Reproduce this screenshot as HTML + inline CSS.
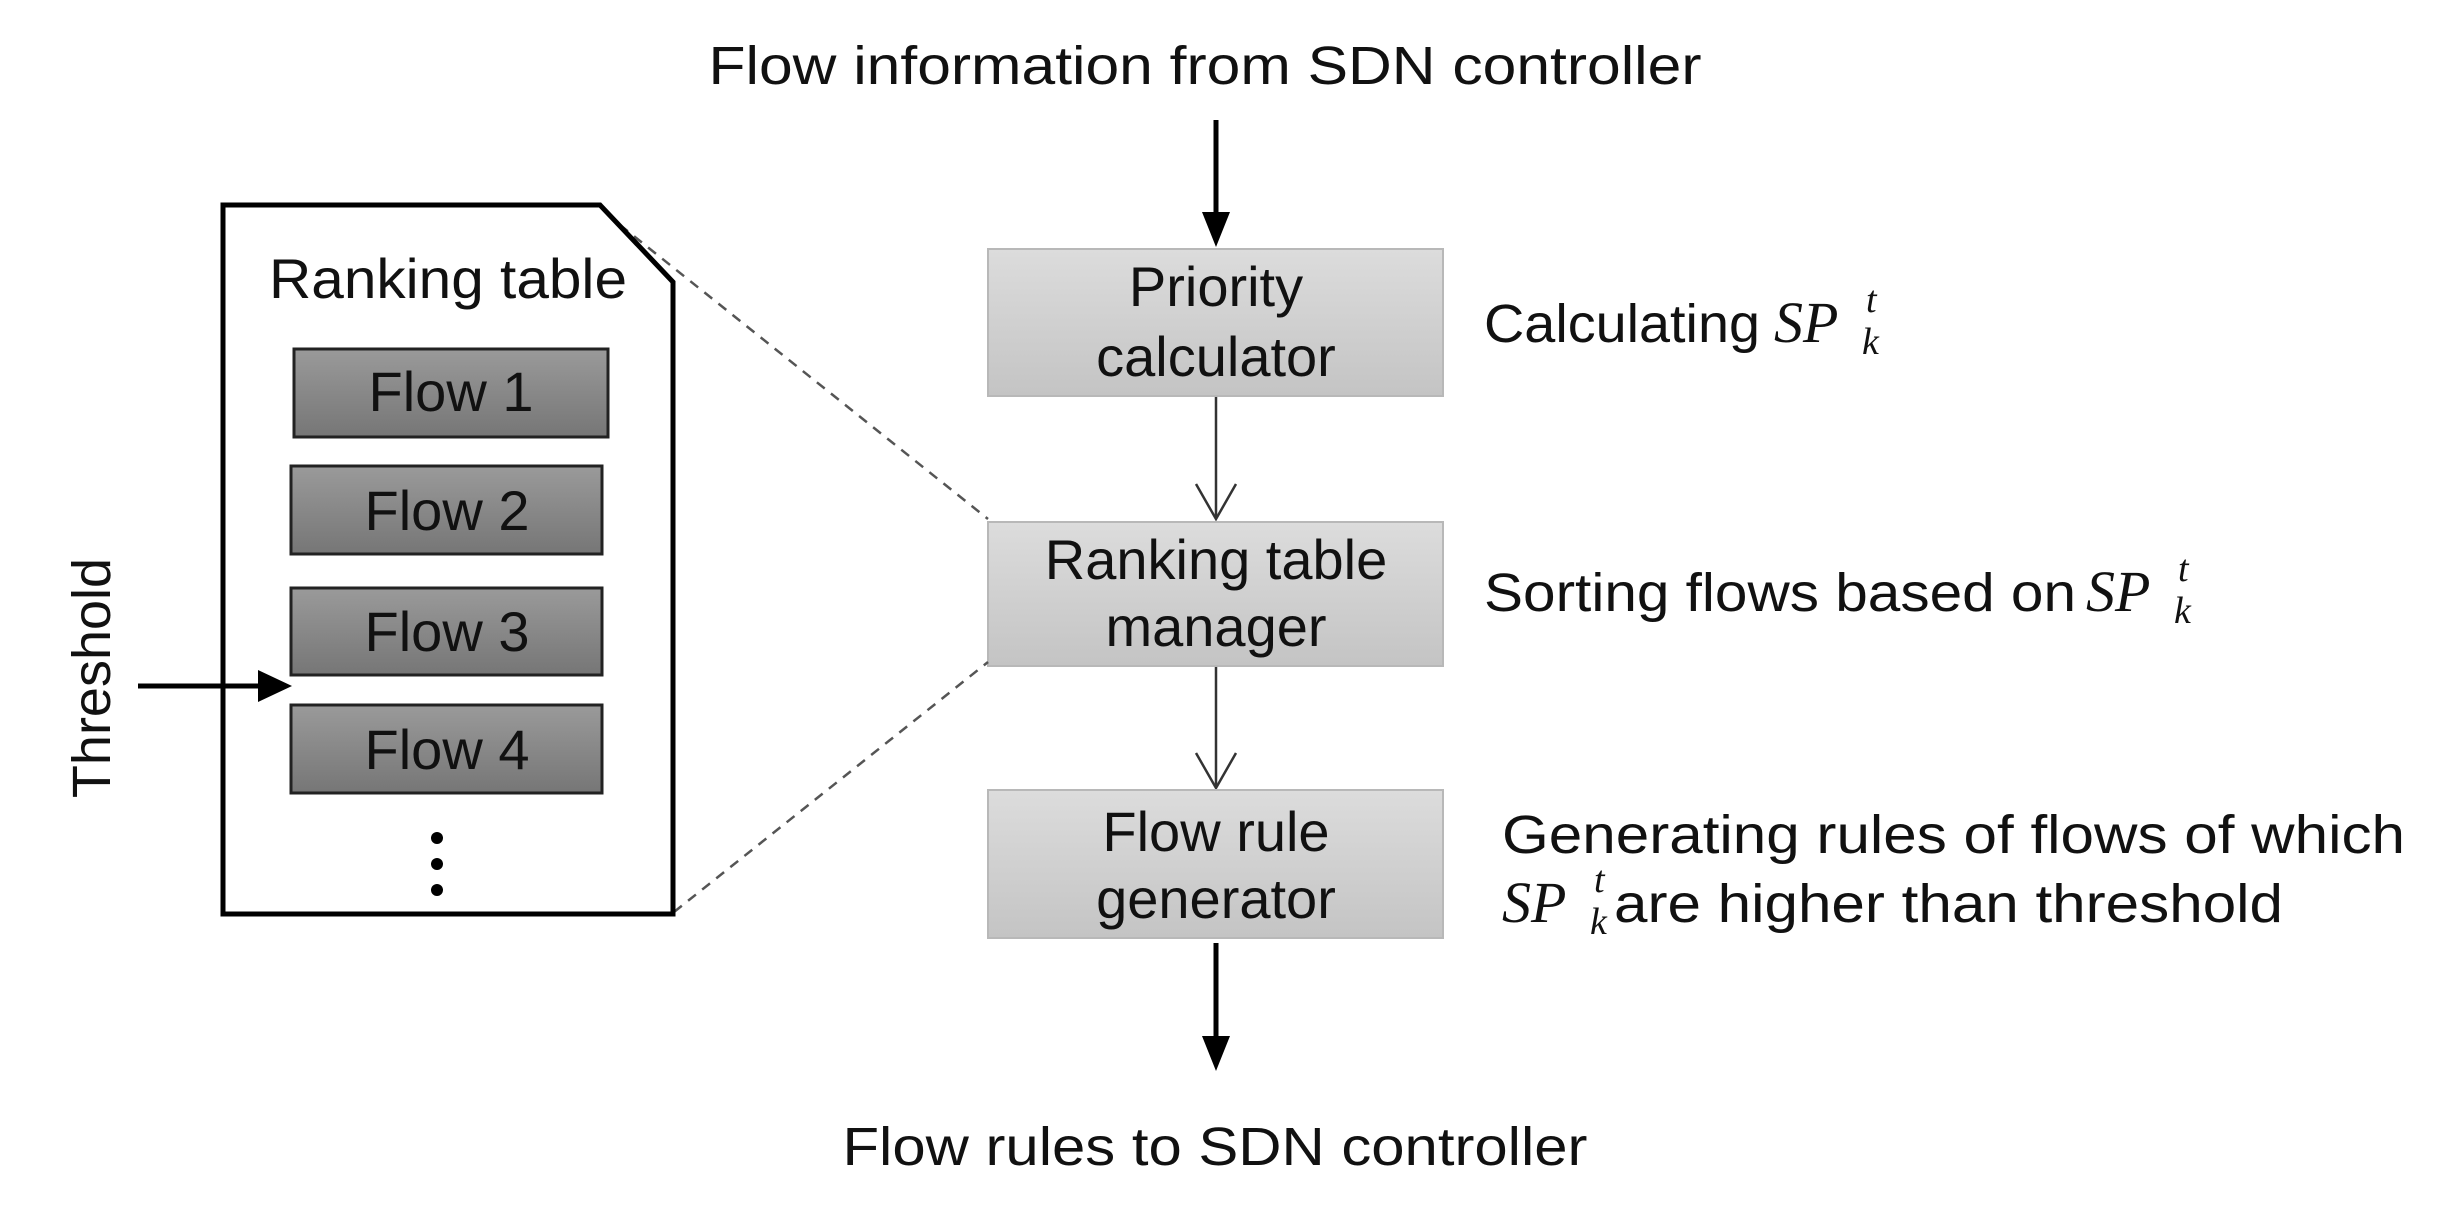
<!DOCTYPE html>
<html><head><meta charset="utf-8"><style>
html,body{margin:0;padding:0;background:#fff;}
svg{display:block;}
text{font-family:"Liberation Sans","DejaVu Sans",sans-serif;fill:#111;}
.m{font-family:"Liberation Serif",serif;font-style:italic;}
</style></head><body>
<svg width="2440" height="1214" viewBox="0 0 2440 1214" xmlns="http://www.w3.org/2000/svg">
<defs>
<linearGradient id="gb" x1="0" y1="0" x2="0" y2="1"><stop offset="0" stop-color="#dcdcdc"/><stop offset="1" stop-color="#c4c4c4"/></linearGradient>
<linearGradient id="gf" x1="0" y1="0" x2="0" y2="1"><stop offset="0" stop-color="#9a9a9a"/><stop offset="1" stop-color="#767676"/></linearGradient>
</defs>

<text x="1205" y="84" font-size="54" text-anchor="middle" textLength="993" lengthAdjust="spacingAndGlyphs">Flow information from SDN controller</text>
<line x1="1216" y1="120" x2="1216" y2="215" stroke="#000" stroke-width="5"/>
<polygon points="1202,212 1230,212 1216,247" fill="#000"/>

<rect x="988" y="249" width="455" height="147" fill="url(#gb)" stroke="#b8b8b8" stroke-width="2"/>
<text x="1216" y="306" font-size="56" text-anchor="middle">Priority</text>
<text x="1216" y="376" font-size="56" text-anchor="middle">calculator</text>

<line x1="1216" y1="397" x2="1216" y2="519" stroke="#333" stroke-width="2.5"/>
<polyline points="1196,484 1216,519 1236,484" fill="none" stroke="#333" stroke-width="2.5"/>

<rect x="988" y="522" width="455" height="144" fill="url(#gb)" stroke="#b8b8b8" stroke-width="2"/>
<text x="1216" y="579" font-size="56" text-anchor="middle">Ranking table</text>
<text x="1216" y="646" font-size="56" text-anchor="middle">manager</text>

<line x1="1216" y1="667" x2="1216" y2="788" stroke="#333" stroke-width="2.5"/>
<polyline points="1196,753 1216,788 1236,753" fill="none" stroke="#333" stroke-width="2.5"/>

<rect x="988" y="790" width="455" height="148" fill="url(#gb)" stroke="#b8b8b8" stroke-width="2"/>
<text x="1216" y="851" font-size="56" text-anchor="middle">Flow rule</text>
<text x="1216" y="918" font-size="56" text-anchor="middle">generator</text>

<line x1="1216" y1="943" x2="1216" y2="1040" stroke="#000" stroke-width="5"/>
<polygon points="1202,1036 1230,1036 1216,1071" fill="#000"/>
<text x="1215" y="1165" font-size="54" text-anchor="middle" textLength="745" lengthAdjust="spacingAndGlyphs">Flow rules to SDN controller</text>

<text x="1484" y="342" font-size="54" textLength="276" lengthAdjust="spacingAndGlyphs">Calculating</text>
<text class="m" x="1774" y="342" font-size="58">SP</text>
<text class="m" x="1866" y="312" font-size="38">t</text><text class="m" x="1862" y="354" font-size="38">k</text>

<text x="1484" y="611" font-size="54" textLength="592" lengthAdjust="spacingAndGlyphs">Sorting flows based on</text>
<text class="m" x="2086" y="611" font-size="58">SP</text>
<text class="m" x="2178" y="581" font-size="38">t</text><text class="m" x="2174" y="623" font-size="38">k</text>

<text x="1502" y="853" font-size="54" textLength="903" lengthAdjust="spacingAndGlyphs">Generating rules of flows of which</text>
<text class="m" x="1502" y="922" font-size="58">SP</text>
<text class="m" x="1594" y="892" font-size="38">t</text><text class="m" x="1590" y="934" font-size="38">k</text>
<text x="1614" y="922" font-size="54" textLength="669" lengthAdjust="spacingAndGlyphs">are higher than threshold</text>

<!-- dashed zoom lines -->
<line x1="620" y1="225" x2="988" y2="519" stroke="#555" stroke-width="2.5" stroke-dasharray="10,8"/>
<line x1="674" y1="912" x2="988" y2="662" stroke="#555" stroke-width="2.5" stroke-dasharray="10,8"/>

<!-- ranking table doc -->
<polygon points="223,205 600,205 673,282 673,914 223,914" fill="#fff" stroke="#000" stroke-width="5"/>
<text x="448" y="298" font-size="56" text-anchor="middle" textLength="358" lengthAdjust="spacingAndGlyphs">Ranking table</text>

<rect x="294" y="349" width="314" height="88" fill="url(#gf)" stroke="#222" stroke-width="3"/>
<text x="451" y="411" font-size="56" text-anchor="middle">Flow 1</text>
<rect x="291" y="466" width="311" height="88" fill="url(#gf)" stroke="#222" stroke-width="3"/>
<text x="447" y="530" font-size="56" text-anchor="middle">Flow 2</text>
<rect x="291" y="588" width="311" height="87" fill="url(#gf)" stroke="#222" stroke-width="3"/>
<text x="447" y="651" font-size="56" text-anchor="middle">Flow 3</text>
<rect x="291" y="705" width="311" height="88" fill="url(#gf)" stroke="#222" stroke-width="3"/>
<text x="447" y="769" font-size="56" text-anchor="middle">Flow 4</text>

<circle cx="437" cy="838" r="6" fill="#000"/>
<circle cx="437" cy="864" r="6" fill="#000"/>
<circle cx="437" cy="890" r="6" fill="#000"/>

<line x1="138" y1="686" x2="262" y2="686" stroke="#000" stroke-width="5"/>
<polygon points="258,670 292,686 258,702" fill="#000"/>
<text x="0" y="0" font-size="54" text-anchor="middle" transform="translate(110,678) rotate(-90)">Threshold</text>
</svg>
</body></html>
